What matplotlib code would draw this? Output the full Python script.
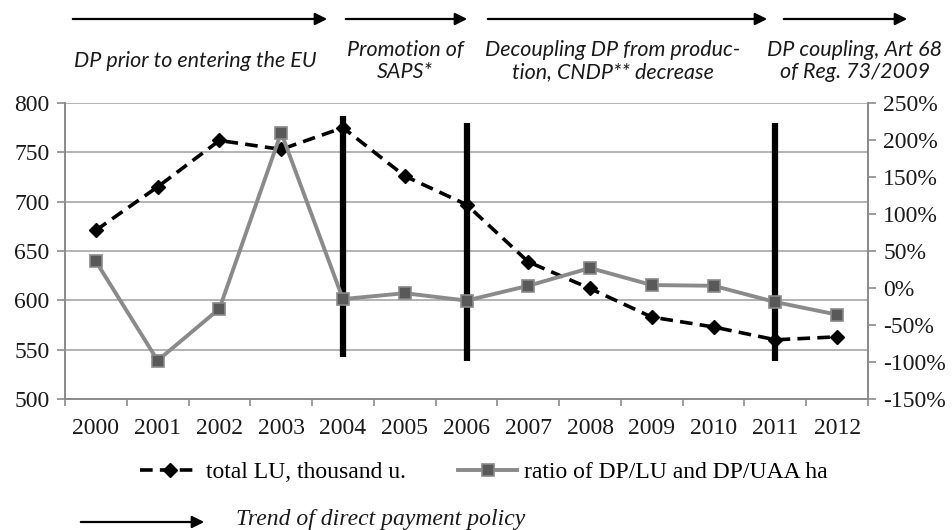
import matplotlib
matplotlib.use("Agg")
import matplotlib.pyplot as plt
from matplotlib.ticker import FuncFormatter

# data
years = ["2000", "2001", "2002", "2003", "2004", "2005", "2006",
         "2007", "2008", "2009", "2010", "2011", "2012"]
total_lu = [671, 715, 762, 753, 775, 726, 697, 639, 612, 583, 573, 560, 563]
ratio_pct = [36, -98, -28, 210, -15, -7, -17, 3, 27, 4, 3, -19, -36]

# policy break markers: (year index, lower, upper) in left-axis units
breaks = [(4, 543, 787), (6, 539, 780), (11, 539, 780)]

# policy periods along the top: (x start, x end, label x, label)
periods = [
    (70, 330, 195, "DP prior to entering the EU"),
    (343, 470, 405, "Promotion of\nSAPS*"),
    (485, 770, 613, "Decoupling DP from produc-\ntion, CNDP** decrease"),
    (781, 910, 855, "DP coupling, Art 68\nof Reg. 73/2009"),
]

W, H = 952, 530
fig = plt.figure(figsize=(W / 100, H / 100), dpi=100)
serif = "Liberation Serif"
grey = "#8c8c8c"

ax = fig.add_axes([65 / W, (H - 399) / H, (868 - 65) / W, (399 - 103) / H])
x = list(range(len(years)))

for i, lo, hi in breaks:
    ax.plot([i, i], [lo, hi], color="black", lw=4.5, zorder=2, solid_capstyle="butt")

l1, = ax.plot(x, total_lu, color="black", ls=(0, (3.5, 2.0)), lw=2.6, marker="D",
              ms=7, zorder=4, label="total LU, thousand u.")
ax.set_ylim(500, 800)
ax.set_yticks(range(500, 801, 50))
ax.set_xlim(-0.5, len(years) - 0.5)
ax.set_xticks(x)
ax.set_xticklabels(years)
ax.grid(axis="y", color="#a6a6a6", lw=1.2, zorder=0)
ax.set_axisbelow(True)

ax2 = ax.twinx()
l2, = ax2.plot(x, ratio_pct, color="#8a8a8a", lw=2.8, marker="s", ms=8.5,
               mfc="#595959", mec="#8a8a8a", mew=1.2, zorder=5,
               label="ratio of DP/LU and DP/UAA ha")
ax2.set_ylim(-150, 250)
ax2.set_yticks(range(-150, 251, 50))
ax2.yaxis.set_major_formatter(FuncFormatter(lambda v, p: f"{v:.0f}%"))

# minor ticks between categories on x
ax.set_xticks([i - 0.5 for i in range(len(years) + 1)], minor=True)
ax.tick_params(axis="x", which="major", length=0, pad=14)
ax.tick_params(axis="x", which="minor", length=5, color=grey, width=1.2)

for a in (ax, ax2):
    for s in a.spines.values():
        s.set_color(grey)
        s.set_linewidth(1.3)
    a.spines["top"].set_visible(False)
    a.tick_params(axis="y", length=6, color=grey, width=1.2, pad=5)
    for lab in a.get_yticklabels() + a.get_xticklabels():
        lab.set_fontfamily(serif)
        lab.set_fontsize(17)
        lab.set_color("#1a1a1a")

fig.legend([l1, l2], [l1.get_label(), l2.get_label()], loc="center",
           bbox_to_anchor=(484 / W, 1 - 472 / H), ncol=2, frameon=False,
           prop={"family": serif, "size": 17}, handlelength=2.5,
           columnspacing=2.2, handletextpad=0.3)

# top arrows and labels
for x0, x1, tx, label in periods:
    fig.add_artist(matplotlib.patches.FancyArrowPatch(
        (x0 / W, 1 - 19 / H), (x1 / W, 1 - 19 / H), transform=fig.transFigure,
        arrowstyle="-|>", mutation_scale=18, color="black", lw=1.6))
    fig.text(tx / W, 1 - 61 / H, label, ha="center", va="center",
             fontsize=15.5, style="italic", family="Lato",
             color="#1a1a1a", linespacing=1.15)

# bottom key
fig.add_artist(matplotlib.patches.FancyArrowPatch(
    (78 / W, 1 - 522 / H), (207 / W, 1 - 522 / H), transform=fig.transFigure,
    arrowstyle="-|>", mutation_scale=18, color="black", lw=1.6))
fig.text(236 / W, 1 - 520 / H, "Trend of direct payment policy", ha="left",
         va="center", fontsize=17, style="italic", family=serif, color="#1a1a1a")

fig.savefig("out.png", dpi=100)
